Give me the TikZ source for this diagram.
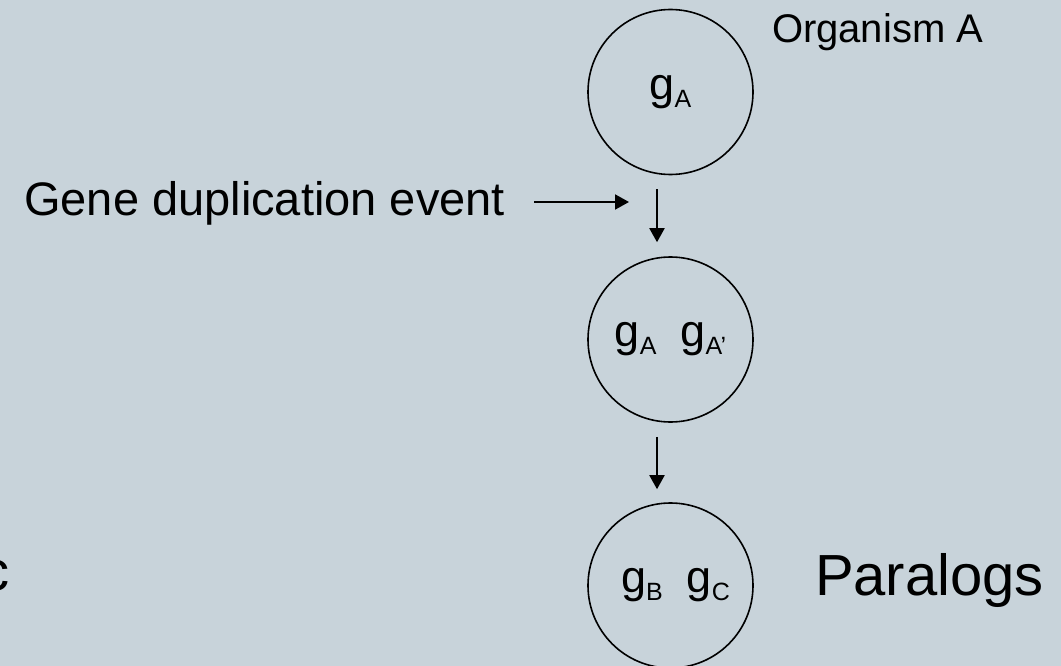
\documentclass[tikz,border=0pt]{standalone}
\usepackage{fontspec}
\setmainfont{Liberation Sans}
\usetikzlibrary{arrows.meta,calc}
\newcommand\fsz[1]{\fontsize{#1}{#1}\selectfont}
% gene symbol with a subscript label
\newcommand\gsym[1]{{\fsz{45}g}\raisebox{-8pt}{\fsz{25}#1}}
\definecolor{slidebg}{RGB}{200,211,218}
\begin{document}
\begin{tikzpicture}[x=1pt,y=-1pt,
  cell/.style={circle,draw=black,line width=1.6pt,minimum size=165pt,inner sep=0pt},
  arr/.style={line width=2pt,-{Triangle[length=14pt,width=15pt]}},
  lbl/.style={inner sep=0pt,outer sep=0pt,text=black}]
  \fill[slidebg] (0,0) rectangle (1061,666);
  \clip (0,0) rectangle (1061,666);
  \useasboundingbox (0,0) rectangle (1061,666);

  % organism before and after the duplication
  \node[cell] (c1) at (670.5,92) {\gsym{A}};
  \node[cell] (c2) at (670.5,339.5) {\gsym{A}\hspace{24pt}\gsym{A’}};
  \node[cell] (c3) at (670.5,585.5) {\hspace{10pt}\gsym{B}\hspace{24pt}\gsym{C}};

  % labels
  \node[lbl,anchor=base west] (org) at (772,43) {\fsz{40}Organism A};
  \node[lbl,anchor=base east] (dup) at (505,215) {\fsz{47}Gene duplication event};
  \node[lbl,anchor=base west] (par) at (815,595) {\fsz{58}Paralogs};
  \node[lbl,anchor=base west] (cut) at (-19,590) {\fsz{56}c};

  % connectors
  \draw[arr] ($(c1.south)+(-13.5,14)$) -- ($(c2.north)+(-13.5,-14)$);
  \draw[arr] ($(c2.south)+(-13.5,14)$) -- ($(c3.north)+(-13.5,-13)$);
  \coordinate (dupend) at (629,202);
  \draw[arr] ($(dup.base east)+(29,-13)$) -- (dupend);
\end{tikzpicture}
\end{document}
